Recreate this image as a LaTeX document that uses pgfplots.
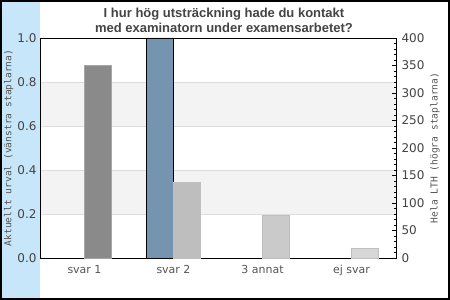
\documentclass[border=0pt]{standalone}
\usepackage{fontspec}
\setmainfont{DejaVu Sans}
\setmonofont{DejaVu Sans Mono}
\newfontfamily\titlefont{Liberation Sans}
\usepackage{pgfplots}
\pgfplotsset{compat=1.18}

\definecolor{panel}{HTML}{C8E6FA}
\definecolor{band}{HTML}{F3F3F3}
\definecolor{gridc}{HTML}{DDDDDD}
\definecolor{cur}{HTML}{7494AF}
\definecolor{g1}{HTML}{8A8A8A}
\definecolor{g2}{HTML}{BEBEBE}
\definecolor{g3}{HTML}{CACACA}
\definecolor{g4}{HTML}{D7D7D7}
\definecolor{txt}{HTML}{444444}
\definecolor{lbl}{HTML}{555555}

\begin{document}
\begin{tikzpicture}
    % background, left panel and frame
    \fill[white] (0,0) rectangle (450pt,300pt);
    \fill[panel] (2pt,2pt) rectangle (40pt,298pt);
    \draw[line width=2pt] (1pt,1pt) rectangle (449pt,299pt);

    \node[align=center, text=txt,
          font=\titlefont\bfseries\fontsize{13}{15}\selectfont]
        at (224pt,280pt) {I hur hög utsträckning hade du kontakt\\med examinatorn under examensarbetet?};

    % left axis: current selection
    \begin{axis}[
        at                = {(40pt,42pt)},
        anchor            = south west,
        scale only axis,
        width             = 356pt,
        height            = 220pt,
        xmin              = -0.5,
        xmax              = 3.5,
        ymin              = 0,
        ymax              = 1,
        axis x line       = none,
        axis y line*      = left,
        axis line style   = {draw=none},
        ytick             = {0, 0.2, 0.4, 0.6, 0.8, 1.0},
        major tick length = 0pt,
        yticklabel style  = {/pgf/number format/.cd, fixed, fixed zerofill, precision=1},
        tick label style  = {text=txt, font=\fontsize{12}{14}\selectfont},
        /pgf/number format/assume math mode=true,
        ylabel            = {Aktuellt urval (vänstra staplarna)},
        ylabel style      = {at={(axis description cs:-0.088,0.5)}, anchor=center,
                             text=lbl, font=\ttfamily\fontsize{9.6}{11}\selectfont}]

        \fill[band] (axis cs:-0.5,0.2) rectangle (axis cs:3.5,0.4);
        \fill[band] (axis cs:-0.5,0.6) rectangle (axis cs:3.5,0.8);
        \draw[gridc, line width=0.8pt] (axis cs:-0.5,0.2) -- (axis cs:3.5,0.2);
        \draw[gridc, line width=0.8pt] (axis cs:-0.5,0.4) -- (axis cs:3.5,0.4);
        \draw[gridc, line width=0.8pt] (axis cs:-0.5,0.6) -- (axis cs:3.5,0.6);
        \draw[gridc, line width=0.8pt] (axis cs:-0.5,0.8) -- (axis cs:3.5,0.8);

        \addplot[
            ybar,
            bar width  = 0.3,
            bar shift  = -0.15,
            fill       = cur,
            draw       = black,
            line width = 0.9pt]
            coordinates {(0,0) (1,1.0) (2,0) (3,0)};
    \end{axis}

    % right axis: all of LTH
    \begin{axis}[
        at                = {(40pt,42pt)},
        anchor            = south west,
        scale only axis,
        width             = 356pt,
        height            = 220pt,
        xmin              = -0.5,
        xmax              = 3.5,
        ymin              = 0,
        ymax              = 400,
        axis line style   = {black, line width=0.9pt},
        ytick             = {0,50,...,400},
        minor y tick num  = 4,
        ytick pos         = right,
        yticklabel pos    = right,
        tick align        = inside,
        major tick length = 4pt,
        minor tick length = 2.5pt,
        y tick style      = {black, line width=0.7pt},
        xtick             = {0,1,2,3},
        xticklabels       = {svar 1, svar 2, 3 annat, ej svar},
        x tick style      = {draw=none},
        xticklabel style  = {text=lbl, yshift=-4pt, font=\fontsize{11}{13}\selectfont},
        yticklabel style  = {text=txt, xshift=2pt, font=\fontsize{12}{14}\selectfont},
        /pgf/number format/assume math mode=true,
        ylabel            = {Hela LTH (högra staplarna)},
        ylabel style      = {at={(axis description cs:1.1096,0.5)}, anchor=center,
                             text=lbl, font=\ttfamily\fontsize{9.6}{11}\selectfont}]

        \addplot[ybar, bar width=0.3, bar shift=0.15, fill=g1, draw=gray!70, line width=0.8pt]
            coordinates {(0,351)};
        \addplot[ybar, bar width=0.3, bar shift=0.15, fill=g2, draw=g2, line width=0.8pt]
            coordinates {(1,137)};
        \addplot[ybar, bar width=0.3, bar shift=0.15, fill=g3, draw=g2, line width=0.8pt]
            coordinates {(2,77)};
        \addplot[ybar, bar width=0.3, bar shift=0.15, fill=g4, draw=g2, line width=0.8pt]
            coordinates {(3,18)};
    \end{axis}
\end{tikzpicture}
\end{document}
